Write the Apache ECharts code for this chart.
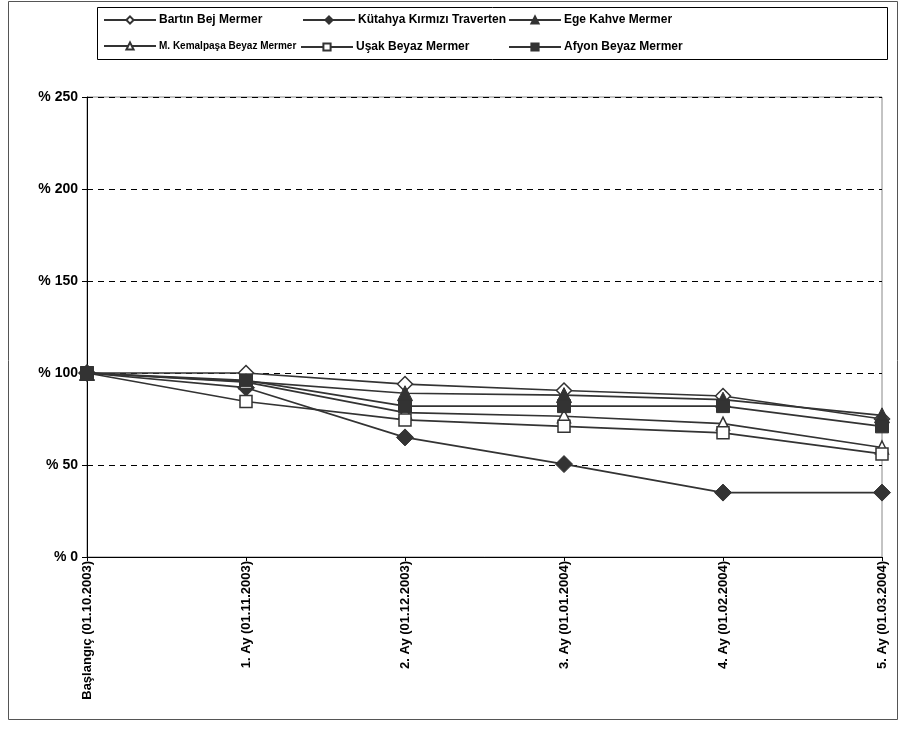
<!DOCTYPE html>
<html><head><meta charset="utf-8">
<script src="https://cdn.jsdelivr.net/npm/echarts@6/dist/echarts.min.js"></script>
<style>html,body{margin:0;padding:0;background:#fff}#c{width:906px;height:738px}</style>
</head><body><div id="c"></div>
<script>
const categories = ['Başlangıç (01.10.2003)','1. Ay (01.11.2003)','2. Ay (01.12.2003)','3. Ay (01.01.2004)','4. Ay (01.02.2004)','5. Ay (01.03.2004)'];
const yTicks = [0, 50, 100, 150, 200, 250];
const bartin = [100, 100, 94, 90.5, 87.5, 75];
const kutahya = [100, 92, 65, 50.5, 35, 35];
const ege = [100, 95.5, 89, 88, 85.5, 77];
const kemalpasa = [100, 95, 78.5, 76.5, 72.5, 59.5];
const usak = [100, 84.5, 74.5, 71, 67.5, 56];
const afyon = [100, 96, 82, 82, 82, 71];

const names = ['Bartın Bej Mermer','Kütahya Kırmızı Traverten','Ege Kahve Mermer','M. Kemalpaşa Beyaz Mermer','Uşak Beyaz Mermer','Afyon Beyaz Mermer'];
const dataSets = [bartin, kutahya, ege, kemalpasa, usak, afyon];
const symbols = ['diamond','diamond','triangle','triangle','rect','rect'];
const filled = [false, true, true, false, false, true];
const sizes = [15, 17, 15, 13, 12, 13];
const dark = '#333333';

const series = names.map((n, i) => ({
  name: n, type: 'line', data: dataSets[i], symbol: symbols[i], symbolSize: sizes[i],
  showAllSymbol: true,
  lineStyle: {color: dark, width: 1.7},
  itemStyle: filled[i] ? {color: dark, borderColor: dark, borderWidth: 1} : {color: '#ffffff', borderColor: dark, borderWidth: 1.5},
  emphasis: {disabled: true}, animation: false, z: 2 + i
}));

const legPos = [[103,14],[302,14],[508,14],[103,41],[300,41],[508,41]];
const legends = names.map((n, i) => ({
  data: [n], left: legPos[i][0], top: legPos[i][1], itemWidth: 52, itemHeight: 9, itemGap: 4,
  padding: 0, selectedMode: false,
  textStyle: {fontFamily: '"Liberation Sans", Arial', fontWeight: 'bold', fontSize: i === 3 ? 10 : 12, color: '#000', padding: [0,0,0,-2]}
}));

const chart = echarts.init(document.getElementById('c'), null, {renderer: 'canvas'});
chart.setOption({
  animation: false,
  backgroundColor: '#fff',
  legend: legends,
  graphic: [
    {type: 'rect', shape: {x: 8.5, y: 1.5, width: 889, height: 718}, style: {fill: 'none', stroke: '#555', lineWidth: 1}, z: -1},
    {type: 'rect', shape: {x: 97.5, y: 7.5, width: 790, height: 52}, style: {fill: 'none', stroke: '#000', lineWidth: 1}, z: -1}
  ],
  grid: {left: 87, right: 24, top: 97, bottom: 181, show: true, borderColor: '#888', borderWidth: 1, containLabel: false},
  xAxis: {
    type: 'category', data: categories, boundaryGap: false,
    axisLine: {lineStyle: {color: '#000', width: 1}},
    axisTick: {show: true, alignWithLabel: true, length: 4, lineStyle: {color: '#000'}},
    axisLabel: {rotate: 90, margin: 4, fontFamily: '"Liberation Sans", Arial', fontWeight: 'bold', fontSize: 13, color: '#000', interval: 0},
    splitLine: {show: false}
  },
  yAxis: {
    type: 'value', min: 0, max: 250, interval: 50,
    axisLine: {show: true, lineStyle: {color: '#000', width: 1}},
    axisTick: {show: true, length: 5, lineStyle: {color: '#000'}},
    axisLabel: {formatter: v => yTicks.includes(v) ? '% ' + v : '', margin: 9, fontFamily: '"Liberation Sans", Arial', fontWeight: 'bold', fontSize: 14, color: '#000'},
    splitLine: {show: true, lineStyle: {color: '#000', type: [6, 5], width: 1}}
  },
  series: series
});
</script></body></html>
